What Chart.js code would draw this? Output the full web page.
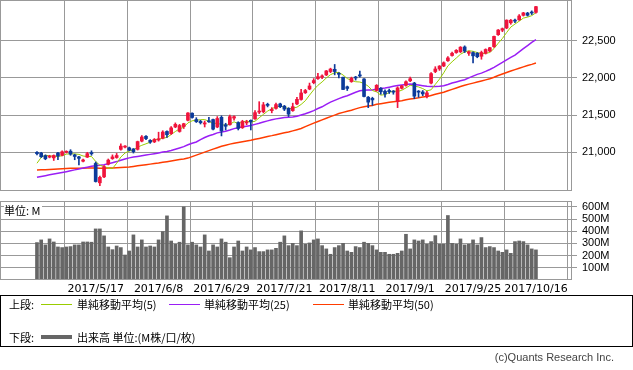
<!DOCTYPE html>
<html>
<head>
<meta charset="utf-8">
<script src="https://cdn.jsdelivr.net/npm/chart.js@4.4.1/dist/chart.umd.min.js"></script>
<style>
  body { margin: 0; background: #fff; width: 633px; height: 370px; position: relative; overflow: hidden;
         font-family: "Noto Sans CJK JP", sans-serif; font-size: 11px; color: #000; }
  canvas { position: absolute; left: 0; }
  #price { top: 0; }
  #volume { top: 192px; }
  .abs { position: absolute; white-space: nowrap; line-height: 14px; }
  #unit { left: 4px; top: 203px; background: #fff; padding-right: 2px; }
  #legend { position: absolute; left: 0; top: 295px; width: 631px; height: 50px; border: 1px solid #000; }
  .ln { position: absolute; width: 31px; height: 1px; }
  #copy { right: 19px; top: 350px; font-family: "Liberation Sans", sans-serif; color: #444; }
</style>
</head>
<body>
<canvas id="price" width="633" height="191"></canvas>
<canvas id="volume" width="633" height="108"></canvas>
<div id="unit" class="abs">単位: M</div>
<div id="legend">
  <div class="abs" style="left:8px;top:1px">上段:</div>
  <div class="ln" style="left:40px;top:8px;background:#99cc00"></div>
  <div class="abs" style="left:76px;top:1px">単純移動平均(5)</div>
  <div class="ln" style="left:168px;top:8px;background:#9a1ef5"></div>
  <div class="abs" style="left:203px;top:1px">単純移動平均(25)</div>
  <div class="ln" style="left:312px;top:8px;background:#ff3c00"></div>
  <div class="abs" style="left:347px;top:1px">単純移動平均(50)</div>
  <div class="abs" style="left:8px;top:34px">下段:</div>
  <div class="ln" style="left:40px;top:39px;height:4px;background:#666"></div>
  <div class="abs" style="left:76px;top:34px">出来高 単位:(M株/口/枚)</div>
</div>
<div id="copy" class="abs">(c)Quants Research Inc.</div>

<script>
// 2017/4/27 - 2017/10/16, one entry per trading day
const open = [21000,20990,20955,20935,20925,20990,20960,21000,21015,20965,
  20938,20880,20935,20995,20850,20590,20670,20840,20915,20930,
  21040,21070,21060,21045,21040,21150,21215,21160,21140,21165,
  21190,21280,21250,21340,21280,21345,21430,21525,21440,21415,
  21380,21420,21440,21340,21470,21370,21370,21460,21400,21330,
  21395,21430,21450,21540,21545,21645,21560,21590,21650,21620,
  21590,21560,21650,21710,21800,21850,21935,21990,22010,22040,
  22085,22115,22060,22008,21880,21950,22010,22040,21985,21740,
  21725,21830,21860,21820,21830,21820,21680,21860,21900,21960,
  21930,21820,21810,21750,21930,22085,22120,22160,22230,22300,
  22340,22350,22415,22330,22340,22330,22290,22330,22360,22420,
  22580,22640,22670,22740,22775,22780,22840,22870,22880,22880];
const high = [21010,21000,20965,20960,20965,21000,21020,21020,21035,20975,
  20945,20910,21000,21020,20870,20680,20820,20910,20965,20985,
  21115,21090,21070,21050,21150,21225,21225,21170,21185,21270,
  21290,21290,21345,21395,21375,21390,21535,21530,21465,21430,
  21420,21470,21445,21480,21490,21390,21500,21490,21410,21430,
  21430,21435,21560,21680,21670,21660,21600,21660,21660,21630,
  21600,21660,21740,21845,21845,21930,21990,22060,22040,22100,
  22130,22180,22070,22010,21890,22010,22020,22090,21990,21750,
  21740,21910,21870,21840,21850,21830,21880,21900,21960,22010,
  21940,21830,21830,21820,22070,22150,22165,22215,22285,22345,
  22380,22420,22430,22360,22350,22340,22360,22390,22410,22560,
  22650,22670,22780,22785,22790,22850,22880,22880,22900,22960];
const low = [20965,20930,20900,20925,20890,20900,20950,20990,20960,20900,
  20830,20870,20930,20960,20600,20550,20660,20830,20905,20920,
  21030,21060,21020,20990,21030,21140,21170,21120,21130,21150,
  21180,21200,21240,21330,21270,21320,21420,21460,21400,21380,
  21340,21400,21300,21330,21220,21300,21365,21430,21300,21320,
  21370,21300,21440,21520,21530,21610,21530,21580,21600,21560,
  21480,21550,21640,21700,21790,21840,21920,21980,21990,22030,
  22070,22040,22000,21840,21830,21940,21970,22010,21745,21600,
  21630,21820,21780,21740,21790,21780,21600,21850,21890,21950,
  21720,21740,21760,21730,21920,22070,22100,22150,22220,22290,
  22330,22340,22340,22300,22200,22270,22250,22320,22350,22410,
  22570,22620,22660,22720,22740,22770,22830,22830,22850,22870];
const close = [20981,20941,20913,20949,20957,20951,21007,21013,20975,20944,
  20919,20897,20982,20980,20607,20663,20805,20895,20938,20957,
  21083,21080,21029,21009,21144,21206,21184,21136,21173,21182,
  21272,21236,21328,21375,21360,21384,21528,21468,21411,21397,
  21395,21410,21311,21454,21287,21350,21479,21479,21321,21414,
  21409,21409,21533,21554,21638,21630,21575,21641,21612,21580,
  21513,21613,21711,21797,21830,21891,21964,22016,22026,22093,
  22118,22085,22048,21844,21858,21994,21998,22025,21750,21674,
  21704,21900,21813,21784,21814,21808,21865,21892,21948,21988,
  21754,21808,21784,21798,22057,22119,22158,22203,22268,22331,
  22370,22412,22359,22350,22296,22284,22341,22381,22405,22557,
  22642,22661,22775,22774,22762,22831,22873,22841,22871,22957];

const ma5 = [20853,20931,20961,20952,20948,20942,20955,20975,20981,20978,
  20972,20950,20943,20944,20877,20826,20807,20790,20782,20852,
  20936,20991,21017,21032,21069,21094,21114,21136,21169,21176,
  21189,21200,21238,21279,21314,21337,21395,21423,21430,21438,
  21440,21416,21385,21393,21371,21362,21376,21410,21383,21409,
  21420,21406,21417,21464,21509,21553,21586,21608,21619,21608,
  21584,21592,21606,21643,21693,21768,21839,21900,21945,21998,
  22043,22068,22074,22038,21991,21966,21948,21944,21925,21888,
  21830,21811,21768,21775,21803,21824,21817,21833,21865,21900,
  21889,21878,21856,21826,21840,21913,21983,22067,22161,22216,
  22266,22317,22348,22364,22357,22340,22326,22330,22341,22394,
  22465,22529,22608,22682,22723,22761,22803,22816,22836,22875];
const ma25 = [20665,20676,20686,20697,20708,20718,20729,20740,20752,20764,
  20776,20788,20800,20812,20820,20826,20833,20845,20860,20875,
  20893,20910,20925,20937,20945,20954,20964,20972,20981,20990,
  21003,21012,21025,21041,21058,21076,21102,21121,21138,21170,
  21199,21223,21240,21261,21274,21284,21300,21318,21331,21342,
  21350,21359,21375,21390,21408,21422,21436,21449,21458,21467,
  21472,21475,21485,21501,21518,21538,21560,21588,21611,21643,
  21674,21698,21721,21742,21760,21783,21807,21826,21834,21836,
  21838,21851,21858,21865,21875,21886,21896,21904,21910,21916,
  21911,21904,21895,21886,21884,21885,21887,21894,21911,21930,
  21945,21961,21975,21999,22023,22047,22064,22087,22112,22142,
  22175,22207,22242,22275,22306,22349,22392,22434,22477,22513];
const ma50 = [20763,20765,20767,20770,20772,20775,20778,20781,20784,20786,
  20787,20787,20788,20789,20788,20787,20787,20788,20790,20792,
  20795,20798,20802,20810,20818,20826,20834,20841,20848,20855,
  20865,20874,20884,20893,20902,20911,20922,20942,20962,20982,
  21002,21022,21042,21062,21082,21096,21110,21122,21133,21143,
  21152,21161,21174,21186,21199,21213,21224,21237,21250,21262,
  21274,21288,21303,21319,21344,21368,21392,21414,21436,21458,
  21479,21499,21520,21536,21551,21566,21583,21600,21612,21622,
  21630,21644,21653,21662,21671,21679,21686,21694,21705,21717,
  21724,21732,21742,21748,21764,21779,21793,21807,21826,21845,
  21864,21884,21900,21916,21929,21943,21958,21973,21989,22008,
  22031,22052,22073,22092,22111,22130,22148,22165,22181,22199];

// volume, millions
const vol = [307,329,288,337,312,271,266,271,274,288,
  288,312,312,310,419,419,362,271,249,279,
  266,205,238,370,271,329,271,279,271,329,
  397,526,320,293,310,600,288,310,288,271,
  370,238,288,271,337,310,183,271,320,238,
  271,247,266,233,233,247,247,260,310,362,
  282,301,282,403,293,304,329,337,282,255,
  211,266,282,301,238,227,274,266,310,301,
  282,247,227,227,211,211,219,238,375,255,
  329,320,329,293,315,364,293,293,529,301,
  293,337,288,293,329,288,348,266,274,266,
  238,227,247,219,315,320,315,288,255,247];

const tickIdx = [14, 29, 44, 59, 74, 89, 104, 119];
const tickLabels = ['2017/5/17', '2017/6/8', '2017/6/29', '2017/7/21', '2017/8/11', '2017/9/1', '2017/9/25', '2017/10/16'];
const priceTicks = [21000, 21500, 22000, 22500];
const volTicks = [100, 200, 300, 400, 500, 600];

const UP = '#f0143c', DOWN = '#0c3a9a', GRID = '#999999';
const candleColor = close.map((c, i) => c >= open[i] ? UP : DOWN);

const xMin = -8.82, xMax = 127.6;

const frame = {
  id: 'frame',
  afterDraw(chart) {
    const a = chart.chartArea, ctx = chart.ctx;
    ctx.save();
    ctx.strokeStyle = GRID;
    ctx.lineWidth = 1;
    ctx.strokeRect(Math.round(a.left) + 0.5, Math.round(a.top) + 0.5,
      Math.round(a.right - a.left) - 1, Math.round(a.bottom - a.top) - 1);
    ctx.restore();
  }
};

const noPad = s => { s.paddingTop = 0; s.paddingBottom = 0; s.paddingLeft = 0; s.paddingRight = 0; };

function xScale(showLabels) {
  return {
    type: 'linear', min: xMin, max: xMax, offset: false,
    afterBuildTicks: s => { s.ticks = tickIdx.map(v => ({ value: v })); },
    afterFit: s => { noPad(s); if (showLabels) s.height = 20; },
    ticks: {
      display: showLabels, autoSkip: false, maxRotation: 0, padding: 3, color: '#000',
      font: { family: 'DejaVu Sans', size: 11 },
      callback: v => tickLabels[tickIdx.indexOf(v)]
    },
    grid: { color: GRID, drawTicks: false },
    border: { display: false }
  };
}

function yScale(min, max, ticks, fmt) {
  return {
    position: 'right', min: min, max: max,
    afterBuildTicks: s => { s.ticks = ticks.map(v => ({ value: v })); },
    afterFit: s => { noPad(s); s.width = 61; },
    ticks: { color: '#000', padding: 5, autoSkip: false, font: { family: 'Liberation Sans', size: 11 }, callback: fmt },
    grid: { color: GRID, tickLength: 5 },
    border: { display: false }
  };
}

new Chart(document.getElementById('price'), {
  type: 'bar',
  data: {
    datasets: [
      { type: 'line', data: ma50.map((v, i) => ({ x: i, y: v })), borderColor: '#ff3c00', borderWidth: 1.5, pointRadius: 0, order: 5 },
      { type: 'line', data: ma25.map((v, i) => ({ x: i, y: v })), borderColor: '#9a1ef5', borderWidth: 1.5, pointRadius: 0, order: 4 },
      { type: 'line', data: ma5.map((v, i) => ({ x: i, y: v })), borderColor: '#99cc00', borderWidth: 1, pointRadius: 0, order: 3 },
      { data: low.map((v, i) => ({ x: i, y: [v, high[i]] })), backgroundColor: candleColor, barThickness: 1, grouped: false, order: 1 },
      { data: open.map((v, i) => ({ x: i, y: [Math.min(v, close[i]), Math.max(v, close[i])] })),
        backgroundColor: candleColor, barThickness: 3, minBarLength: 1, grouped: false, order: 0 }
    ]
  },
  options: {
    responsive: false,
    animation: false,
    layout: { padding: 0 },
    plugins: { legend: { display: false }, tooltip: { enabled: false } },
    scales: {
      x: xScale(false),
      y: yScale(20480, 23046, priceTicks, v => v.toLocaleString('en-US'))
    }
  },
  plugins: [frame]
});

new Chart(document.getElementById('volume'), {
  type: 'bar',
  data: {
    datasets: [
      { data: vol.map((v, i) => ({ x: i, y: v })), backgroundColor: '#666666', barThickness: 3 }
    ]
  },
  options: {
    responsive: false,
    animation: false,
    layout: { padding: { top: 9, left: 0, right: 0, bottom: 0 } },
    plugins: { legend: { display: false }, tooltip: { enabled: false } },
    scales: {
      x: xScale(true),
      y: yScale(0, 648, volTicks, v => v + 'M')
    }
  },
  plugins: [frame]
});
</script>
</body>
</html>
